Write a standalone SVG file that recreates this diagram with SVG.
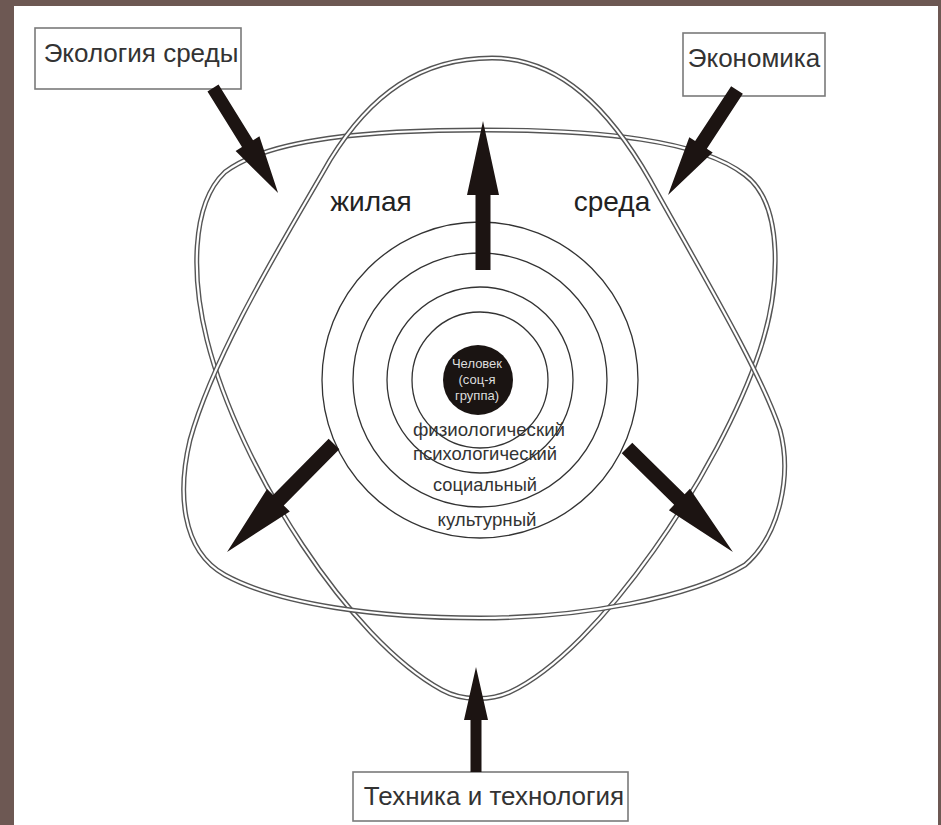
<svg xmlns="http://www.w3.org/2000/svg" width="941" height="825" viewBox="0 0 941 825">
<style>
.box{fill:#fff;stroke:#7a7a7a;stroke-width:1.6}
.btxt{font-family:"Liberation Sans",Arial,sans-serif;font-size:26px;fill:#333;text-anchor:middle}
.big{font-family:"Liberation Sans",Arial,sans-serif;font-size:28px;fill:#222;text-anchor:middle}
.ring{fill:none;stroke:#333;stroke-width:1.3}
.rtxt{font-family:"Liberation Sans",Arial,sans-serif;font-size:19px;fill:#333;text-anchor:middle}
.ctxt{font-family:"Liberation Sans",Arial,sans-serif;font-size:13px;fill:#ddd;text-anchor:middle}
.loopO{fill:none;stroke:#555;stroke-width:5}
.loopI{fill:none;stroke:#fff;stroke-width:2.2}
.arr{fill:#1c1412}
</style>
<rect x="0" y="0" width="941" height="825" fill="#6d5853"/>
<rect x="14" y="6" width="924" height="819" fill="#fff"/>
<defs>
<path id="loopL" d="M484,130 C600,130 700,140 745,175 C785,205 780,290 760,350 C720,470 600,650 510,692 C490,701 462,701 442,690 C350,640 240,470 207,340 C192,280 190,205 225,172 C270,138 370,130 484,130 Z"/>
<path id="loopM" d="M492,58 C560,58 610,110 650,180 C700,270 760,370 780,430 C792,475 780,535 745,565 C690,598 580,618 480,618 C380,618 280,605 225,575 C180,550 178,490 190,440 C215,350 290,230 330,160 C370,95 420,58 492,58 Z"/>
</defs>
<g id="orbits">
<use href="#loopL" class="loopO"/><use href="#loopL" class="loopI"/>
<use href="#loopM" class="loopO"/><use href="#loopM" class="loopI"/>
</g>
<g id="rings">
<circle class="ring" cx="480" cy="380" r="158"/>
<circle class="ring" cx="480" cy="380" r="127"/>
<circle class="ring" cx="480" cy="380" r="93"/>
<circle class="ring" cx="480" cy="380" r="68"/>
</g>
<g id="center">
<circle cx="478" cy="380" r="35" fill="#1a1412"/>
<text class="ctxt" x="477" y="368">Человек</text>
<text class="ctxt" x="477" y="384">(соц-я</text>
<text class="ctxt" x="477" y="400">группа)</text>
</g>
<g id="ring-labels">
<text class="rtxt" x="489" y="436" textLength="152" lengthAdjust="spacingAndGlyphs">физиологический</text>
<text class="rtxt" x="485" y="460" textLength="144" lengthAdjust="spacingAndGlyphs">психологический</text>
<text class="rtxt" x="485" y="491" textLength="104" lengthAdjust="spacingAndGlyphs">социальный</text>
<text class="rtxt" x="487" y="526" textLength="99" lengthAdjust="spacingAndGlyphs">культурный</text>
</g>
<g id="labels">
<text class="big" x="371" y="211">жилая</text>
<text class="big" x="612" y="211">среда</text>
</g>
<g id="node-ecology">
<rect class="box" x="35" y="28" width="206" height="61"/>
<text class="btxt" x="141" y="62">Экология среды</text>
</g>
<g id="node-economy">
<rect class="box" x="683" y="33" width="142" height="63"/>
<text class="btxt" x="754" y="67">Экономика</text>
</g>
<g id="node-tech">
<rect class="box" x="353" y="772" width="275" height="49"/>
<text class="btxt" x="494" y="805">Техника и технология</text>
</g>
<g id="connectors">
<polygon class="arr" points="0,-7.5 75,-7.5 75,-16 149,0 75,16 75,7.5 0,7.5" transform="translate(483,270) rotate(-90)"/>
<polygon class="arr" points="0,-5.5 52,-5.5 52,-12 105,0 52,12 52,5.5 0,5.5" transform="translate(476,772) rotate(-90)"/>
<polygon class="arr" points="0,-6.5 65.5,-6.5 65.5,-14 123.5,0 65.5,14 65.5,6.5 0,6.5" transform="translate(213,88) rotate(58.2)"/>
<polygon class="arr" points="0,-7 65.6,-7 65.6,-14 125.6,0 65.6,14 65.6,7 0,7" transform="translate(737,90) rotate(123.3)"/>
<polygon class="arr" points="0,-7.5 79,-7.5 79,-16 152,0 79,16 79,7.5 0,7.5" transform="translate(334,444) rotate(134.7)"/>
<polygon class="arr" points="0,-7.5 73.5,-7.5 73.5,-15 148.5,0 73.5,15 73.5,7.5 0,7.5" transform="translate(627,448) rotate(44.5)"/>
</g>
</svg>
